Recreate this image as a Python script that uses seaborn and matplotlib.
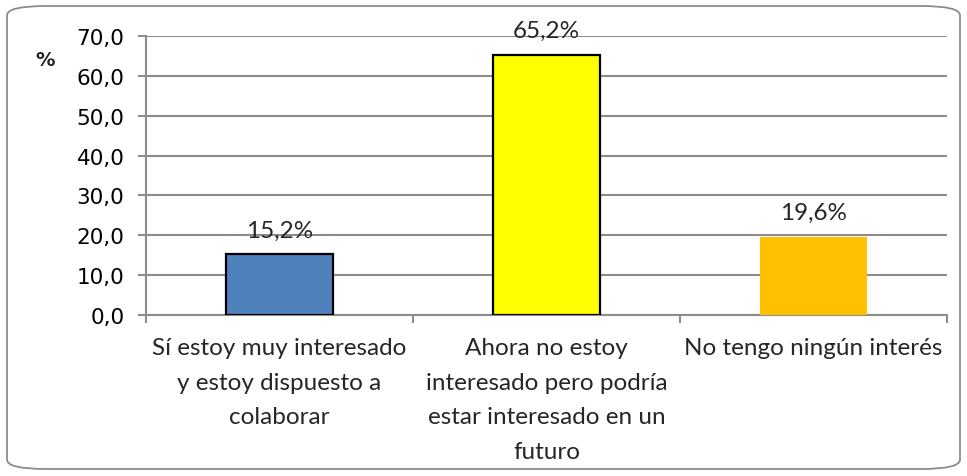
import matplotlib
matplotlib.use("Agg")
import matplotlib.pyplot as plt
from matplotlib.patches import FancyBboxPatch
import seaborn as sns
import pandas as pd

categories = [
    "Sí estoy muy interesado\ny estoy dispuesto a\ncolaborar",
    "Ahora no estoy\ninteresado pero podría\nestar interesado en un\nfuturo",
    "No tengo ningún interés",
]
values = [15.2, 65.2, 19.6]
bar_colors = ["#4F81BD", "#FFFF00", "#FFC000"]
yticks = [0, 10, 20, 30, 40, 50, 60, 70]

sns.set_theme(style="white")
plt.rcParams["font.family"] = ["DejaVu Sans"]
label_font = "Lato"

df = pd.DataFrame({"cat": categories, "val": values})

fig = plt.figure(figsize=(9.67, 4.77), dpi=100)
ax = fig.add_axes([146 / 967, 1 - 316 / 477, (947 - 146) / 967, (316 - 37) / 477])

sns.barplot(data=df, x="cat", y="val", hue="cat", palette=bar_colors,
            width=0.4, legend=False, ax=ax, saturation=1, zorder=3)

for i, patch in enumerate(ax.patches):
    if i < 2:
        patch.set_edgecolor("black")
        patch.set_linewidth(1.6)
    else:
        patch.set_edgecolor("none")

grid_c = "#8c8c8c"
ax.set_ylim(0, 70)
ax.set_xlim(-0.5, 2.5)
ax.set_yticks(yticks)
ax.set_yticklabels([f"{v:.1f}".replace(".", ",") for v in yticks], fontsize=15.5, color="black")
for y in yticks:
    ax.axhline(y, color=grid_c, lw=1.5, zorder=1)

for s in ["top", "right"]:
    ax.spines[s].set_visible(False)
ax.spines["left"].set_color(grid_c)
ax.spines["left"].set_linewidth(1.5)
ax.spines["bottom"].set_color(grid_c)
ax.spines["bottom"].set_linewidth(1.5)
ax.tick_params(axis="y", which="both", left=True, length=6, width=1.5, color=grid_c, pad=9.5)

ax.set_xticks(range(len(categories)))
ax.set_xticklabels(categories, fontsize=17.5, family=label_font, linespacing=1.8, va="top")
ax.tick_params(axis="x", which="major", bottom=False, pad=10)
ax.set_xticks([-0.5, 0.5, 1.5, 2.5], minor=True)
ax.tick_params(axis="x", which="minor", bottom=True, length=6, width=1.5, color=grid_c)
ax.set_xlabel("")
ax.set_ylabel("")

labels = [f"{v:.1f}%".replace(".", ",") for v in values]
for patch, lab in zip(ax.patches, labels):
    ax.annotate(lab, (patch.get_x() + patch.get_width() / 2, patch.get_height()),
                xytext=(0, 10), textcoords="offset points", ha="center", va="bottom",
                fontsize=17.5, family=label_font, annotation_clip=False)

fig.text(45 / 967, 1 - 60 / 477, "%", fontsize=14, fontweight="bold", ha="center", va="center")

border = FancyBboxPatch((7 / 967, 7 / 477), (960 - 7) / 967, (470 - 7) / 477,
                        boxstyle="round,pad=0,rounding_size=0.04",
                        transform=fig.transFigure, facecolor="none",
                        edgecolor="#8c8c8c", lw=1.3, mutation_aspect=477 / 967)
fig.patches.append(border)

fig.savefig("out.png", dpi=100, facecolor="white")
